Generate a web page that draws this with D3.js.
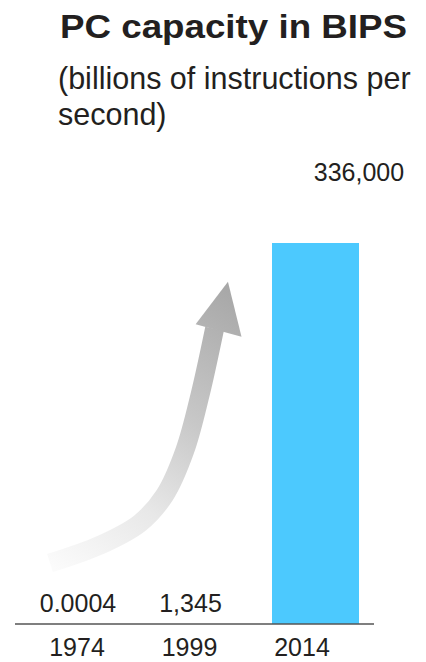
<!DOCTYPE html>
<html>
<head>
<meta charset="utf-8">
<script src="https://cdn.jsdelivr.net/npm/d3@7"></script>
<style>
  html, body { margin: 0; padding: 0; background: #ffffff; }
  svg { display: block; }
  text { font-family: "Liberation Sans", Arial, Helvetica, sans-serif; fill: #231f20; }
</style>
</head>
<body>
<script>
// ---- data ----
const years = ["1974", "1999", "2014"];
const bips = [0.0004, 1345, 336000];
const valueLabels = ["0.0004", "1,345", "336,000"];
const titleText = "PC capacity in BIPS";
const subtitleLines = ["(billions of instructions per", "second)"];

const W = 426, H = 662;
const svg = d3.select("body").append("svg").attr("width", W).attr("height", H);

const x = d3.scaleBand().domain(years).range([47, 359]).paddingInner(0.2267).paddingOuter(0);
const y = d3.scaleLinear().domain([0, 336000]).range([624, 243]);

// title
svg.append("text").attr("x", 60).attr("y", 38)
  .attr("textLength", 347).attr("lengthAdjust", "spacingAndGlyphs")
  .style("font-weight", "bold").style("font-size", "33px").text(titleText);
svg.selectAll("text.sub").data(subtitleLines).join("text").attr("class", "sub")
  .attr("x", 58).attr("y", (d, i) => 89 + i * 36)
  .style("font-size", "30.5px").text(d => d);

// gradient arrow (decorative, placed relative to scales)
const defs = svg.append("defs");
const x0 = x("1974"), x1 = x("1999"), bw = x.bandwidth();
const ax = t => x0 + t * (x1 + bw - x0);       // 0..1 across first two bands
const ay = t => y(0) - t * (y(0) - y(336000)); // 0..1 up the value range
const grad = defs.append("linearGradient").attr("id", "ag")
  .attr("gradientUnits", "userSpaceOnUse")
  .attr("x1", ax(0.0)).attr("y1", ay(0.16)).attr("x2", ax(0.9)).attr("y2", ay(0.88));
grad.append("stop").attr("offset", 0).attr("stop-color", "#fbfbfb");
grad.append("stop").attr("offset", 0.3).attr("stop-color", "#e8e8e8");
grad.append("stop").attr("offset", 0.6).attr("stop-color", "#c8c8c8");
grad.append("stop").attr("offset", 1).attr("stop-color", "#a8a8a8");

const shaft = [
  [ax(0.015), ay(0.16)], [ax(0.266), ay(0.207)], [ax(0.466), ay(0.265)],
  [ax(0.591), ay(0.339)], [ax(0.692), ay(0.457)], [ax(0.767), ay(0.601)], [ax(0.84), ay(0.775)]
];
svg.append("path").attr("d", d3.line().curve(d3.curveCatmullRom)(shaft))
  .attr("fill", "none").attr("stroke", "url(#ag)").attr("stroke-width", 19);
const head = [[ax(0.745), ay(0.787)], [ax(0.907), ay(0.898)], [ax(0.975), ay(0.754)]];
svg.append("path").attr("d", d3.line()(head) + "Z").attr("fill", "url(#ag)");

// bars (only those tall enough to be visible)
const visible = years.filter((d, i) => y(0) - y(bips[i]) >= 2);
svg.selectAll("rect.bar").data(visible).join("rect").attr("class", "bar")
  .attr("x", d => x(d)).attr("width", x.bandwidth())
  .attr("y", d => y(bips[years.indexOf(d)]))
  .attr("height", d => y(0) - y(bips[years.indexOf(d)]))
  .attr("fill", "#4cc9fe");

// axis baseline
svg.append("line").attr("x1", 15).attr("x2", 374).attr("y1", y(0)).attr("y2", y(0))
  .attr("stroke", "#555555").attr("stroke-width", 1.6);

// value labels
svg.selectAll("text.val").data(years).join("text").attr("class", "val")
  .attr("text-anchor", "middle")
  .attr("x", (d, i) => i === 2 ? x(d) + x.bandwidth() : x(d) + 31)
  .attr("y", (d, i) => i === 2 ? y(bips[i]) - 62 : y(0) - 12)
  .style("font-size", "25px").text((d, i) => valueLabels[i]);

// year labels
svg.selectAll("text.yr").data(years).join("text").attr("class", "yr")
  .attr("text-anchor", "middle").attr("x", d => x(d) + 30).attr("y", 656)
  .style("font-size", "25px").text(d => d);
</script>
</body>
</html>
